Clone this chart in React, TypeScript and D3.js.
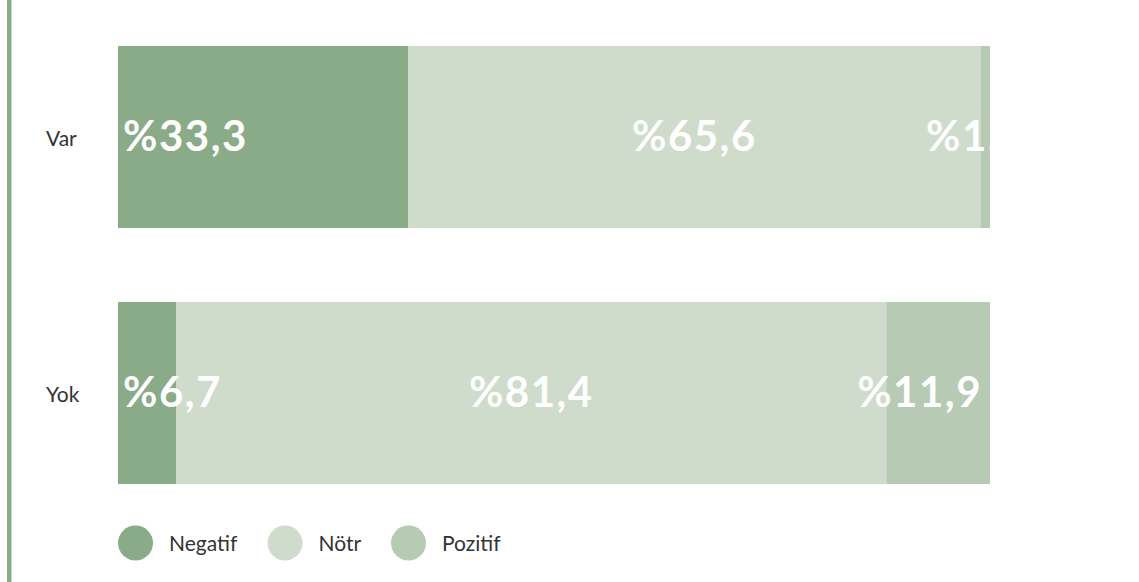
import React, { useEffect, useRef } from "react";
import * as d3 from "d3";

const categories = ["Var", "Yok"];
const seriesNames = ["Negatif", "Nötr", "Pozitif"];
const negatif = [33.3, 6.7];
const notr = [65.6, 81.4];
const pozitif = [1.1, 11.9];
const colors = ["#8aab87", "#cfdbcb", "#b7cab4"];

const W = 1139;
const H = 582;

export default function App() {
  const ref = useRef<SVGSVGElement | null>(null);

  useEffect(() => {
    const svg = d3.select(ref.current);
    svg.selectAll("*").remove();

    const x = d3.scaleLinear().domain([0, 100]).range([118, 990]);
    const y = d3.scaleBand().domain(categories).range([46, 484]).paddingInner(0.289).paddingOuter(0);

    // left rule
    svg.append("rect").attr("x", 7).attr("y", 0).attr("width", 4.5).attr("height", H).attr("fill", "#8aab87");

    const series = [negatif, notr, pozitif];
    const fmt = (v: number) => "%" + d3.format(".1f")(v).replace(".", ",");

    const defs = svg.append("defs");
    defs.append("clipPath").attr("id", "barclip")
      .append("rect").attr("x", x(0)).attr("y", 0).attr("width", x(100) - x(0)).attr("height", H);

    categories.forEach((cat, ci) => {
      const y0 = y(cat) as number;
      const bh = y.bandwidth();
      let acc = 0;
      const g = svg.append("g");
      series.forEach((s, si) => {
        const v = s[ci];
        const x0 = x(acc);
        const x1 = x(acc + v);
        g.append("rect").attr("x", x0).attr("y", y0).attr("width", x1 - x0).attr("height", bh).attr("fill", colors[si]);
        acc += v;
      });
      acc = 0;
      const lg = svg.append("g").attr("clip-path", "url(#barclip)");
      series.forEach((s, si) => {
        const v = s[ci];
        const x0 = x(acc);
        const x1 = x(acc + v);
        let tx = (x0 + x1) / 2;
        let anchor = "middle";
        if (si === 0) { tx = x0 + 5; anchor = "start"; }
        if (si === 2) {
          if (x1 - x0 < 40) { tx = x(100) - 64; anchor = "start"; }
          else { tx = x(100) - 8; anchor = "end"; }
        }
        lg.append("text")
          .attr("x", tx).attr("y", y0 + bh / 2 + 14)
          .attr("text-anchor", anchor)
          .attr("fill", "#ffffff")
          .attr("font-family", "Lato, 'Open Sans', sans-serif")
          .attr("font-weight", 700)
          .attr("font-size", 42)
          .attr("letter-spacing", 1.5)
          .text(fmt(v));
        acc += v;
      });
      svg.append("text")
        .attr("x", 46).attr("y", y0 + bh / 2 + 9)
        .attr("fill", "#333333")
        .attr("font-family", "Lato, 'Open Sans', sans-serif")
        .attr("font-size", 21)
        .text(cat);
    });

    // legend
    const legendX = [135.5, 285, 408.5];
    const lgd = svg.append("g");
    seriesNames.forEach((name, i) => {
      lgd.append("circle").attr("cx", legendX[i]).attr("cy", 543).attr("r", 17.5).attr("fill", colors[i]);
      lgd.append("text")
        .attr("x", legendX[i] + 33.5).attr("y", 551)
        .attr("fill", "#333333")
        .attr("font-family", "Lato, 'Open Sans', sans-serif")
        .attr("font-size", 21)
        .text(name);
    });
  }, []);

  return (
    <svg ref={ref} width={W} height={H} style={{ position: "absolute", left: 0, top: 0, background: "#fff" }} />
  );
}
